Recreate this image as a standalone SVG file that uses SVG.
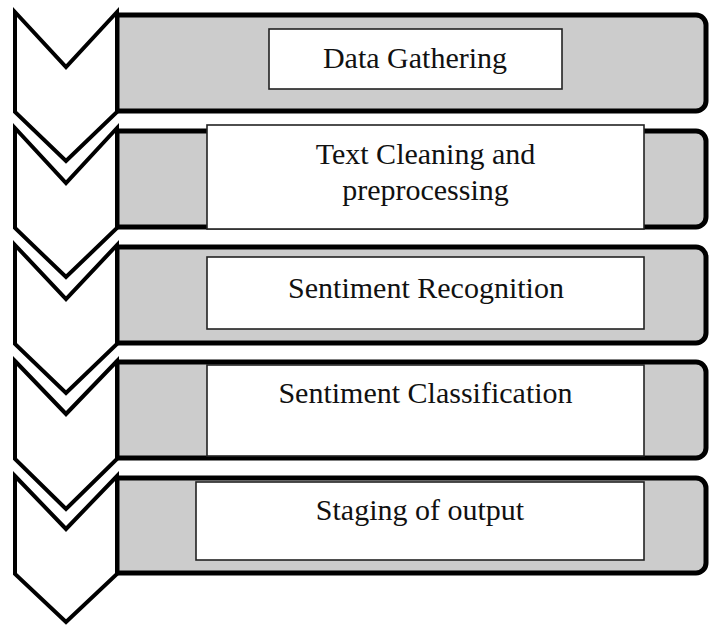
<svg xmlns="http://www.w3.org/2000/svg" width="709" height="625" viewBox="0 0 709 625">
  <style>
    .bar { fill: #cccccc; stroke: #000; stroke-width: 5; stroke-linejoin: round; }
    .chev { fill: #fff; stroke: #000; stroke-width: 4; stroke-linejoin: miter; }
    .box { fill: #fff; stroke: #222; stroke-width: 1.6; }
    .label { font-family: "Liberation Serif", "Times New Roman", serif; font-size: 30px; fill: #111; text-anchor: middle; }
  </style>
  <rect width="709" height="625" fill="#fff"/>

  <!-- step 1 -->
  <g id="step-data-gathering">
    <path class="bar" d="M117,15 H696 A10,10 0 0 1 706,25 V101 A10,10 0 0 1 696,111 H117 Z"/>
    <path class="chev" d="M15,12 L66,67 L117,12 L117,112 L66,161 L15,112 Z"/>
    <rect class="box" x="269" y="29" width="293" height="60"/>
    <text class="label" x="415" y="68">Data Gathering</text>
  </g>

  <!-- step 2 -->
  <g id="step-text-cleaning">
    <path class="bar" d="M117,131 H696 A10,10 0 0 1 706,141 V217 A10,10 0 0 1 696,227 H117 Z"/>
    <path class="chev" d="M15,128 L66,183 L117,128 L117,228 L66,277 L15,228 Z"/>
    <rect class="box" x="207" y="125" width="437" height="104"/>
    <text class="label" x="425.5" y="164">Text Cleaning and</text>
    <text class="label" x="425.5" y="200">preprocessing</text>
  </g>

  <!-- step 3 -->
  <g id="step-sentiment-recognition">
    <path class="bar" d="M117,247 H696 A10,10 0 0 1 706,257 V333 A10,10 0 0 1 696,343 H117 Z"/>
    <path class="chev" d="M15,245 L66,299 L117,245 L117,344 L66,393 L15,344 Z"/>
    <rect class="box" x="207" y="257" width="437" height="72"/>
    <text class="label" x="426" y="298">Sentiment Recognition</text>
  </g>

  <!-- step 4 -->
  <g id="step-sentiment-classification">
    <path class="bar" d="M117,362 H696 A10,10 0 0 1 706,372 V448 A10,10 0 0 1 696,458 H117 Z"/>
    <path class="chev" d="M15,361 L66,414 L117,361 L117,459 L66,509 L15,459 Z"/>
    <rect class="box" x="207" y="365" width="437" height="91"/>
    <text class="label" x="425.5" y="403">Sentiment Classification</text>
  </g>

  <!-- step 5 -->
  <g id="step-staging-output">
    <path class="bar" d="M117,478 H696 A10,10 0 0 1 706,488 V563 A10,10 0 0 1 696,573 H117 Z"/>
    <path class="chev" d="M15,476 L66,529 L117,476 L117,574 L66,622 L15,574 Z"/>
    <rect class="box" x="196" y="482" width="448" height="78"/>
    <text class="label" x="420" y="520">Staging of output</text>
  </g>

  <!-- flow is shown by the chevrons; no separate connector lines -->
  <g id="connectors"/>
</svg>
